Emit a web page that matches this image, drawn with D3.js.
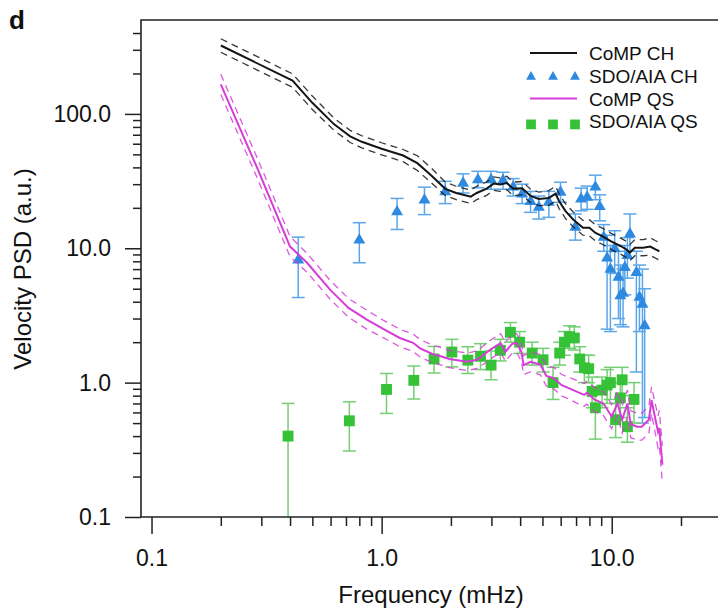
<!DOCTYPE html>
<html>
<head>
<meta charset="utf-8">
<script src="https://cdn.jsdelivr.net/npm/d3@7"></script>
<style>
body { margin: 0; background: #fff; }
text { font-family: "Liberation Sans", Arial, sans-serif; fill: #111; }
</style>
</head>
<body>
<script>
// CoMP coronal hole (black line), spread = half-width of dashed band in decades
let chFreq = [0.20,0.41,0.50,0.62,0.73,0.82,1.0,1.24,1.43,1.64,1.89,2.11,2.44,2.59,2.86,3.07,3.27,3.5,3.73,4.08,4.44,4.82,5.33,5.7,5.9,6.3,6.8,7.5,8.0,8.5,9.1,9.9,10.9,11.6,12.0,12.6,13.7,14.7,15.5,16.1];
let chPsd = [323,177,121,84,68,62,55,49,43,35,27.7,25.8,24.2,25.8,27.8,30.3,29.8,30.6,27.7,28,24.5,23.3,23.7,25.5,22.5,18.9,16.4,14.2,14.2,13.0,12.3,11.3,10.4,9.8,9.3,10.1,10.1,10.3,9.8,9.5];
let chSpread = [0.05,0.05,0.05,0.045,0.045,0.045,0.045,0.045,0.055,0.055,0.05,0.05,0.05,0.05,0.05,0.05,0.05,0.05,0.05,0.05,0.05,0.05,0.055,0.055,0.055,0.055,0.055,0.055,0.06,0.06,0.06,0.06,0.06,0.06,0.06,0.06,0.06,0.065,0.065,0.065];

// CoMP quiet sun (magenta line)
let qsFreq = [0.20,0.29,0.40,0.474,0.598,0.718,0.862,1.02,1.2,1.37,1.47,1.68,1.79,1.97,2.35,2.6,2.84,2.97,3.29,3.45,3.7,3.86,4.05,4.14,4.44,4.9,5.2,5.6,6.04,6.5,7.0,7.6,7.8,8.4,9.2,10.0,10.6,11.1,11.7,12.1,12.9,13.5,14.5,14.9,15.5,15.9,16.1,16.6];
let qsPsd = [166,38.5,10.3,7.8,4.9,3.6,2.94,2.5,2.15,1.98,1.8,1.62,1.58,1.5,1.43,1.48,1.66,1.76,1.97,1.7,1.95,1.97,1.7,1.35,1.43,1.36,1.12,1.08,0.96,0.91,0.86,0.81,0.84,0.75,0.70,0.56,0.70,0.53,0.70,0.49,0.47,0.47,0.53,0.74,0.53,0.43,0.46,0.245];
let qsSpread = [0.075,0.075,0.075,0.07,0.07,0.07,0.07,0.065,0.065,0.065,0.065,0.065,0.065,0.065,0.065,0.065,0.07,0.07,0.07,0.07,0.07,0.07,0.07,0.07,0.075,0.075,0.075,0.08,0.08,0.08,0.085,0.085,0.085,0.09,0.09,0.09,0.09,0.1,0.1,0.1,0.1,0.1,0.1,0.1,0.11,0.12,0.13,0.14];

// SDO/AIA coronal hole (blue triangles)
let aiaChFreq = [0.434,0.80,1.167,1.535,1.89,2.26,2.62,2.99,3.37,3.73,4.08,4.44,4.82,5.33,5.99,6.95,7.36,7.82,8.49,8.87,9.23,9.55,9.87,10.3,10.7,10.9,11.2,11.4,11.7,12.0,12.8,13.2,13.6,13.9];
let aiaChPsd = [8.3,11.7,19.0,23.2,26.8,31,32.9,32.9,32.5,29,25.8,22.7,20.5,22.4,26.6,14.6,23.7,24.4,29,20.8,12.3,8.6,7.1,10.1,6.2,4.5,4.7,7.3,9.0,13.0,6.7,4.4,3.9,2.7];
let aiaChLo = [4.3,7.8,13.8,17.8,21.5,25.8,28.2,27.5,27.5,24.5,21.5,18.5,16.5,17,22,11.5,19,19.5,23,16,9.5,2.5,2.4,6.5,3.0,2.7,2.6,4.5,6.0,9.5,1.2,2.4,0.5,0.55];
let aiaChHi = [12.1,15.5,23.5,28.5,31.5,35.8,37.4,37.4,36.8,33,30,26.5,24.5,26.5,31,18,28,29,35,25,15,12.5,10.5,13.5,9.5,7.5,7,10.5,12,18,9.5,7.5,7,5];

// SDO/AIA quiet sun (green squares)
let aiaQsFreq = [0.392,0.724,1.05,1.38,1.69,2.02,2.37,2.69,2.99,3.28,3.63,3.98,4.51,5.03,5.56,5.94,6.23,6.56,6.88,7.26,7.61,7.94,8.22,8.49,9.08,9.55,9.87,10.4,10.9,11.1,11.7,12.5];
let aiaQsPsd = [0.40,0.52,0.89,1.04,1.5,1.69,1.47,1.57,1.35,1.74,2.37,2.0,1.66,1.48,1.0,1.66,2.0,2.2,2.15,1.5,1.29,1.27,0.86,0.65,0.88,0.96,1.0,0.53,0.77,1.05,0.47,0.75];
let aiaQsLo = [0.07,0.31,0.59,0.755,1.18,1.31,1.17,1.25,1.05,1.45,2.0,1.65,1.35,1.2,0.75,1.35,1.6,1.8,1.75,1.2,1.0,1.0,0.65,0.38,0.65,0.7,0.75,0.39,0.55,0.8,0.36,0.5];
let aiaQsHi = [0.70,0.72,1.17,1.33,1.86,2.1,1.85,1.95,1.72,2.1,2.8,2.4,2.0,1.8,1.3,2.0,2.4,2.65,2.6,1.85,1.6,1.6,1.1,0.88,1.1,1.25,1.3,0.7,1.0,1.3,0.65,1.0];

// axis ticks
let xMajor = [0.1, 1, 10];
let xMinor = [0.2,0.3,0.4,0.5,0.6,0.7,0.8,0.9,2,3,4,5,6,7,8,9,20];
let yMajor = [0.1, 1, 10, 100];
let yMinor = [0.2,0.3,0.4,0.5,0.6,0.7,0.8,0.9,2,3,4,5,6,7,8,9,20,30,40,50,60,70,80,90,200,300,400];

let legendLabels = ["CoMP CH", "SDO/AIA CH", "CoMP QS", "SDO/AIA QS"];

window.onload = function(){(function(){
let m = {top: 20, left: 141, bottom: 95, right: 0},
    W = 718, H = 612,
    w = W - m.left - m.right,
    h = H - m.top - m.bottom;

let col = {
	ch: "#151515",
	aiaCh: "#2e8ae0",
	aiaChBar: "#5aa6ea",
	qs: "#d63cd6",
	aiaQs: "#36c236",
	aiaQsBar: "#74cf74"
};

let svg = d3.select("body").append("svg")
	.attr("width", W)
	.attr("height", H);

let g = svg.append("g")
	.attr("transform", "translate(" + m.left + "," + m.top + ")");

let x = d3.scaleLog().domain([0.09, 30]).range([0, 580.5]),
    y = d3.scaleLog().domain([0.1, 500]).range([497, 0]);

g.append("clipPath").attr("id", "clip")
	.append("rect").attr("width", w).attr("height", h);

let plot = g.append("g").attr("clip-path", "url(#clip)");

function zip(fs, vs) { return fs.map(function(f, i){ return [f, vs[i]]; }); }

let line = d3.line()
	.x(function(d){ return x(d[0]); })
	.y(function(d){ return y(d[1]); });

// error bars + markers
function errorBars(fs, vs, lo, hi, color) {
	let gb = plot.append("g").attr("stroke", color).attr("stroke-width", 1.5).attr("fill", "none");
	fs.forEach(function(f, i){
		let cx = x(f);
		gb.append("line").attr("x1", cx).attr("x2", cx).attr("y1", y(lo[i])).attr("y2", y(hi[i]));
		gb.append("line").attr("x1", cx - 6.5).attr("x2", cx + 6.5).attr("y1", y(lo[i])).attr("y2", y(lo[i]));
		gb.append("line").attr("x1", cx - 6.5).attr("x2", cx + 6.5).attr("y1", y(hi[i])).attr("y2", y(hi[i]));
	});
}

errorBars(aiaChFreq, aiaChPsd, aiaChLo, aiaChHi, col.aiaChBar);
errorBars(aiaQsFreq, aiaQsPsd, aiaQsLo, aiaQsHi, col.aiaQsBar);

let tri = d3.symbol().type(d3.symbolTriangle).size(62),
    sq = d3.symbol().type(d3.symbolSquare).size(118);

plot.append("g").selectAll("path")
	.data(zip(aiaChFreq, aiaChPsd))
	.enter().append("path")
	.attr("d", tri)
	.attr("fill", col.aiaCh)
	.attr("transform", function(d){ return "translate(" + x(d[0]) + "," + (y(d[1]) + 1) + ")"; });

plot.append("g").selectAll("path")
	.data(zip(aiaQsFreq, aiaQsPsd))
	.enter().append("path")
	.attr("d", sq)
	.attr("fill", col.aiaQs)
	.attr("transform", function(d){ return "translate(" + x(d[0]) + "," + y(d[1]) + ")"; });

// CoMP curves with dashed bands
function curve(fs, vs, sp, color) {
	[1, -1].forEach(function(s){
		plot.append("path")
			.datum(fs.map(function(f, i){ return [f, vs[i] * Math.pow(10, s * sp[i])]; }))
			.attr("fill", "none")
			.attr("stroke", color)
			.attr("stroke-width", 1.3)
			.attr("stroke-dasharray", "7,5")
			.attr("opacity", 0.85)
			.attr("d", line);
	});
	plot.append("path")
		.datum(zip(fs, vs))
		.attr("fill", "none")
		.attr("stroke", color)
		.attr("stroke-width", 2)
		.attr("d", line);
}

curve(chFreq, chPsd, chSpread, col.ch);
curve(qsFreq, qsPsd, qsSpread, col.qs);

// axes
let fmt = d3.format(".1f");

let xa = g.append("g").attr("transform", "translate(0," + h + ")");
xa.append("g").call(d3.axisBottom(x).tickValues(xMinor).tickSize(9).tickFormat(""));
xa.append("g").call(d3.axisBottom(x).tickValues(xMajor).tickSize(17).tickPadding(16).tickFormat(fmt));

let ya = g.append("g");
ya.append("g").call(d3.axisLeft(y).tickValues(yMinor).tickSize(8).tickFormat(""));
ya.append("g").call(d3.axisLeft(y).tickValues(yMajor).tickSize(16).tickPadding(14).tickFormat(fmt));

g.selectAll(".domain").remove();
g.selectAll(".tick line").attr("stroke", "#222").attr("stroke-width", 1.5);
g.selectAll(".tick text").attr("font-size", 23).attr("fill", "#111")
	.style("font-family", "'Liberation Sans', Arial, sans-serif");

// frame (left, bottom, top)
g.append("path")
	.attr("d", "M" + w + ",0H0V" + h + "H" + w)
	.attr("fill", "none")
	.attr("stroke", "#222")
	.attr("stroke-width", 1.6);

// titles
svg.append("text")
	.attr("x", 431).attr("y", 603)
	.attr("text-anchor", "middle")
	.attr("font-size", 24)
	.text("Frequency (mHz)");

svg.append("text")
	.attr("transform", "translate(31,269) rotate(-90)")
	.attr("text-anchor", "middle")
	.attr("font-size", 24)
	.text("Velocity PSD (a.u.)");

svg.append("text")
	.attr("x", 9).attr("y", 29)
	.attr("font-size", 26)
	.attr("font-weight", "bold")
	.text("d");

// legend
let lg = svg.append("g").attr("transform", "translate(530,53)");
legendLabels.forEach(function(lab, i){
	let row = lg.append("g").attr("transform", "translate(0," + (i * 22.8) + ")");
	if (i === 0 || i === 2) {
		row.append("line").attr("x1", 0).attr("x2", 47)
			.attr("stroke", i === 0 ? col.ch : col.qs).attr("stroke-width", 2);
	} else {
		[1, 23, 45].forEach(function(px){
			row.append("path")
				.attr("d", i === 1 ? d3.symbol().type(d3.symbolTriangle).size(42)() : d3.symbol().type(d3.symbolSquare).size(95)())
				.attr("fill", i === 1 ? col.aiaCh : col.aiaQs)
				.attr("transform", "translate(" + px + "," + (i === 1 ? 1 : 3) + ")");
		});
	}
	row.append("text")
		.attr("x", 59).attr("y", 7)
		.attr("font-size", 19)
		.text(lab);
});

})()}
</script>
</body>
</html>
